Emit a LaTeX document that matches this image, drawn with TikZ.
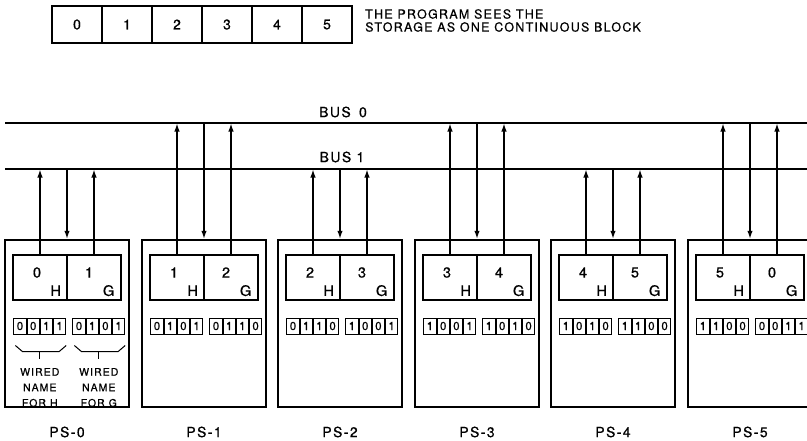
\documentclass[tikz,border=0pt]{standalone}
\usepackage{fontspec}
\setmainfont{TeX Gyre Heros}[LetterSpace=10,FakeBold=0.6]
\usetikzlibrary{arrows.meta,positioning}

\tikzset{
  cell/.style={draw, line width=1.4pt, minimum width=50pt, minimum height=37pt, inner sep=0pt, font=\fontsize{14}{14}\selectfont},
  psbox/.style={draw, line width=1.5pt, minimum width=124pt, minimum height=167pt, inner sep=0pt},
  half/.style={draw, line width=1.3pt, minimum width=54pt, minimum height=45pt, inner sep=0pt},
  bit/.style={draw, line width=1pt, minimum width=12.2pt, minimum height=16pt, inner sep=0pt, font=\fontsize{11.5}{11.5}\selectfont},
  num/.style={inner sep=0pt, font=\fontsize{14.5}{14.5}\selectfont},
  bus/.style={line width=2.4pt},
  link/.style={line width=1.9pt, -{Latex[length=8.5pt,width=5.5pt]}},
  lbl/.style={inner sep=0pt, font=\fontsize{14}{15}\selectfont, align=center},
  wired/.style={inner sep=0pt, font=\fontsize{10.5}{15.5}\selectfont, align=center},
  brace/.style={line width=1pt},
}

% bits, name, x of first bit
\def\bitrow#1#2#3{\bitsplit{#2}{#3}#1\relax}
\def\bitsplit#1#2#3#4#5#6\relax{%
  \node[bit] (#1-1) at (#2,326) {#3};
  \node[bit, right=0pt of #1-1] (#1-2) {#4};
  \node[bit, right=0pt of #1-2] (#1-3) {#5};
  \node[bit, right=0pt of #1-3] (#1-4) {#6};}

\begin{document}
\begin{tikzpicture}[x=1pt,y=-1pt]
  \useasboundingbox (0,0) rectangle (807,440);
  \clip (0,0) rectangle (807,440);

  \foreach \k in {0,...,5}
    \node[cell] (c\k) at (77+50*\k,24.5) {\k};
  \node[lbl, anchor=west, align=left, font=\fontsize{12.5}{13}\selectfont] (note) at (365,20.5)
    {THE PROGRAM SEES THE\\STORAGE AS ONE CONTINUOUS BLOCK};

  \coordinate (bus0w) at (5,123);  \coordinate (bus0e) at (807,123);
  \coordinate (bus1w) at (5,169);  \coordinate (bus1e) at (807,169);
  \draw[bus] (bus0w) -- (bus0e);
  \draw[bus] (bus1w) -- (bus1e);
  \node[lbl] (lbus0) at (343,112) {BUS\hspace{3pt} 0};
  \node[lbl] (lbus1) at (342,157) {BUS 1};

  \foreach \i/\h/\g/\hb/\gb/\b in {0/0/1/0011/0101/1, 1/1/2/0101/0110/0,
      2/2/3/0110/1001/1, 3/3/4/1001/1010/0, 4/4/5/1010/1100/1, 5/5/0/1100/0011/0} {
    \pgfmathsetmacro\cx{round(67+136.6*\i)}
    \node[psbox] (ps\i) at (\cx,323.5) {};
    \node[half] (h\i) at (\cx-27,277.5) {};
    \node[half] (g\i) at (\cx+27,277.5) {};
    \node[num] (hn\i) at ([shift={(-3,-5)}]h\i.center) {\h};
    \node[num] (hl\i) at ([shift={(-12,-10)}]h\i.south east) {H};
    \node[num] (gn\i) at ([shift={(-5,-5)}]g\i.center) {\g};
    \node[num] (gl\i) at ([shift={(-13,-10)}]g\i.south east) {G};
    \expandafter\bitrow\expandafter{\hb}{hw\i}{\cx-47}
    \expandafter\bitrow\expandafter{\gb}{gw\i}{\cx+12}
    \node[lbl] (name\i) at (\cx,432) {PS-\i};
    \draw[link] (h\i.north) -- (h\i.north |- bus\b w);
    \draw[link] (g\i.north) -- (g\i.north |- bus\b w);
    \draw[link] (ps\i.north |- bus\b w) -- (ps\i.north);
  }

  \draw[brace] ([shift={(2,11)}]hw0-1.south west) -- ++(7,6)
    -- ([shift={(-7,17)}]hw0-4.south east) -- ([shift={(0,11)}]hw0-4.south east);
  \draw[brace] ([shift={(0,17)}]hw0-2.south east) -- ++(0,7);
  \draw[brace] ([shift={(2,11)}]gw0-1.south west) -- ++(7,6)
    -- ([shift={(-7,17)}]gw0-4.south east) -- ([shift={(0,11)}]gw0-4.south east);
  \draw[brace] ([shift={(0,17)}]gw0-2.south east) -- ++(0,7);
  \node[wired] (wh) at ([shift={(0,53)}]hw0-2.south east) {WIRED\\NAME\\FOR H};
  \node[wired] (wg) at ([shift={(0,53)}]gw0-2.south east) {WIRED\\NAME\\FOR G};
\end{tikzpicture}
\end{document}
